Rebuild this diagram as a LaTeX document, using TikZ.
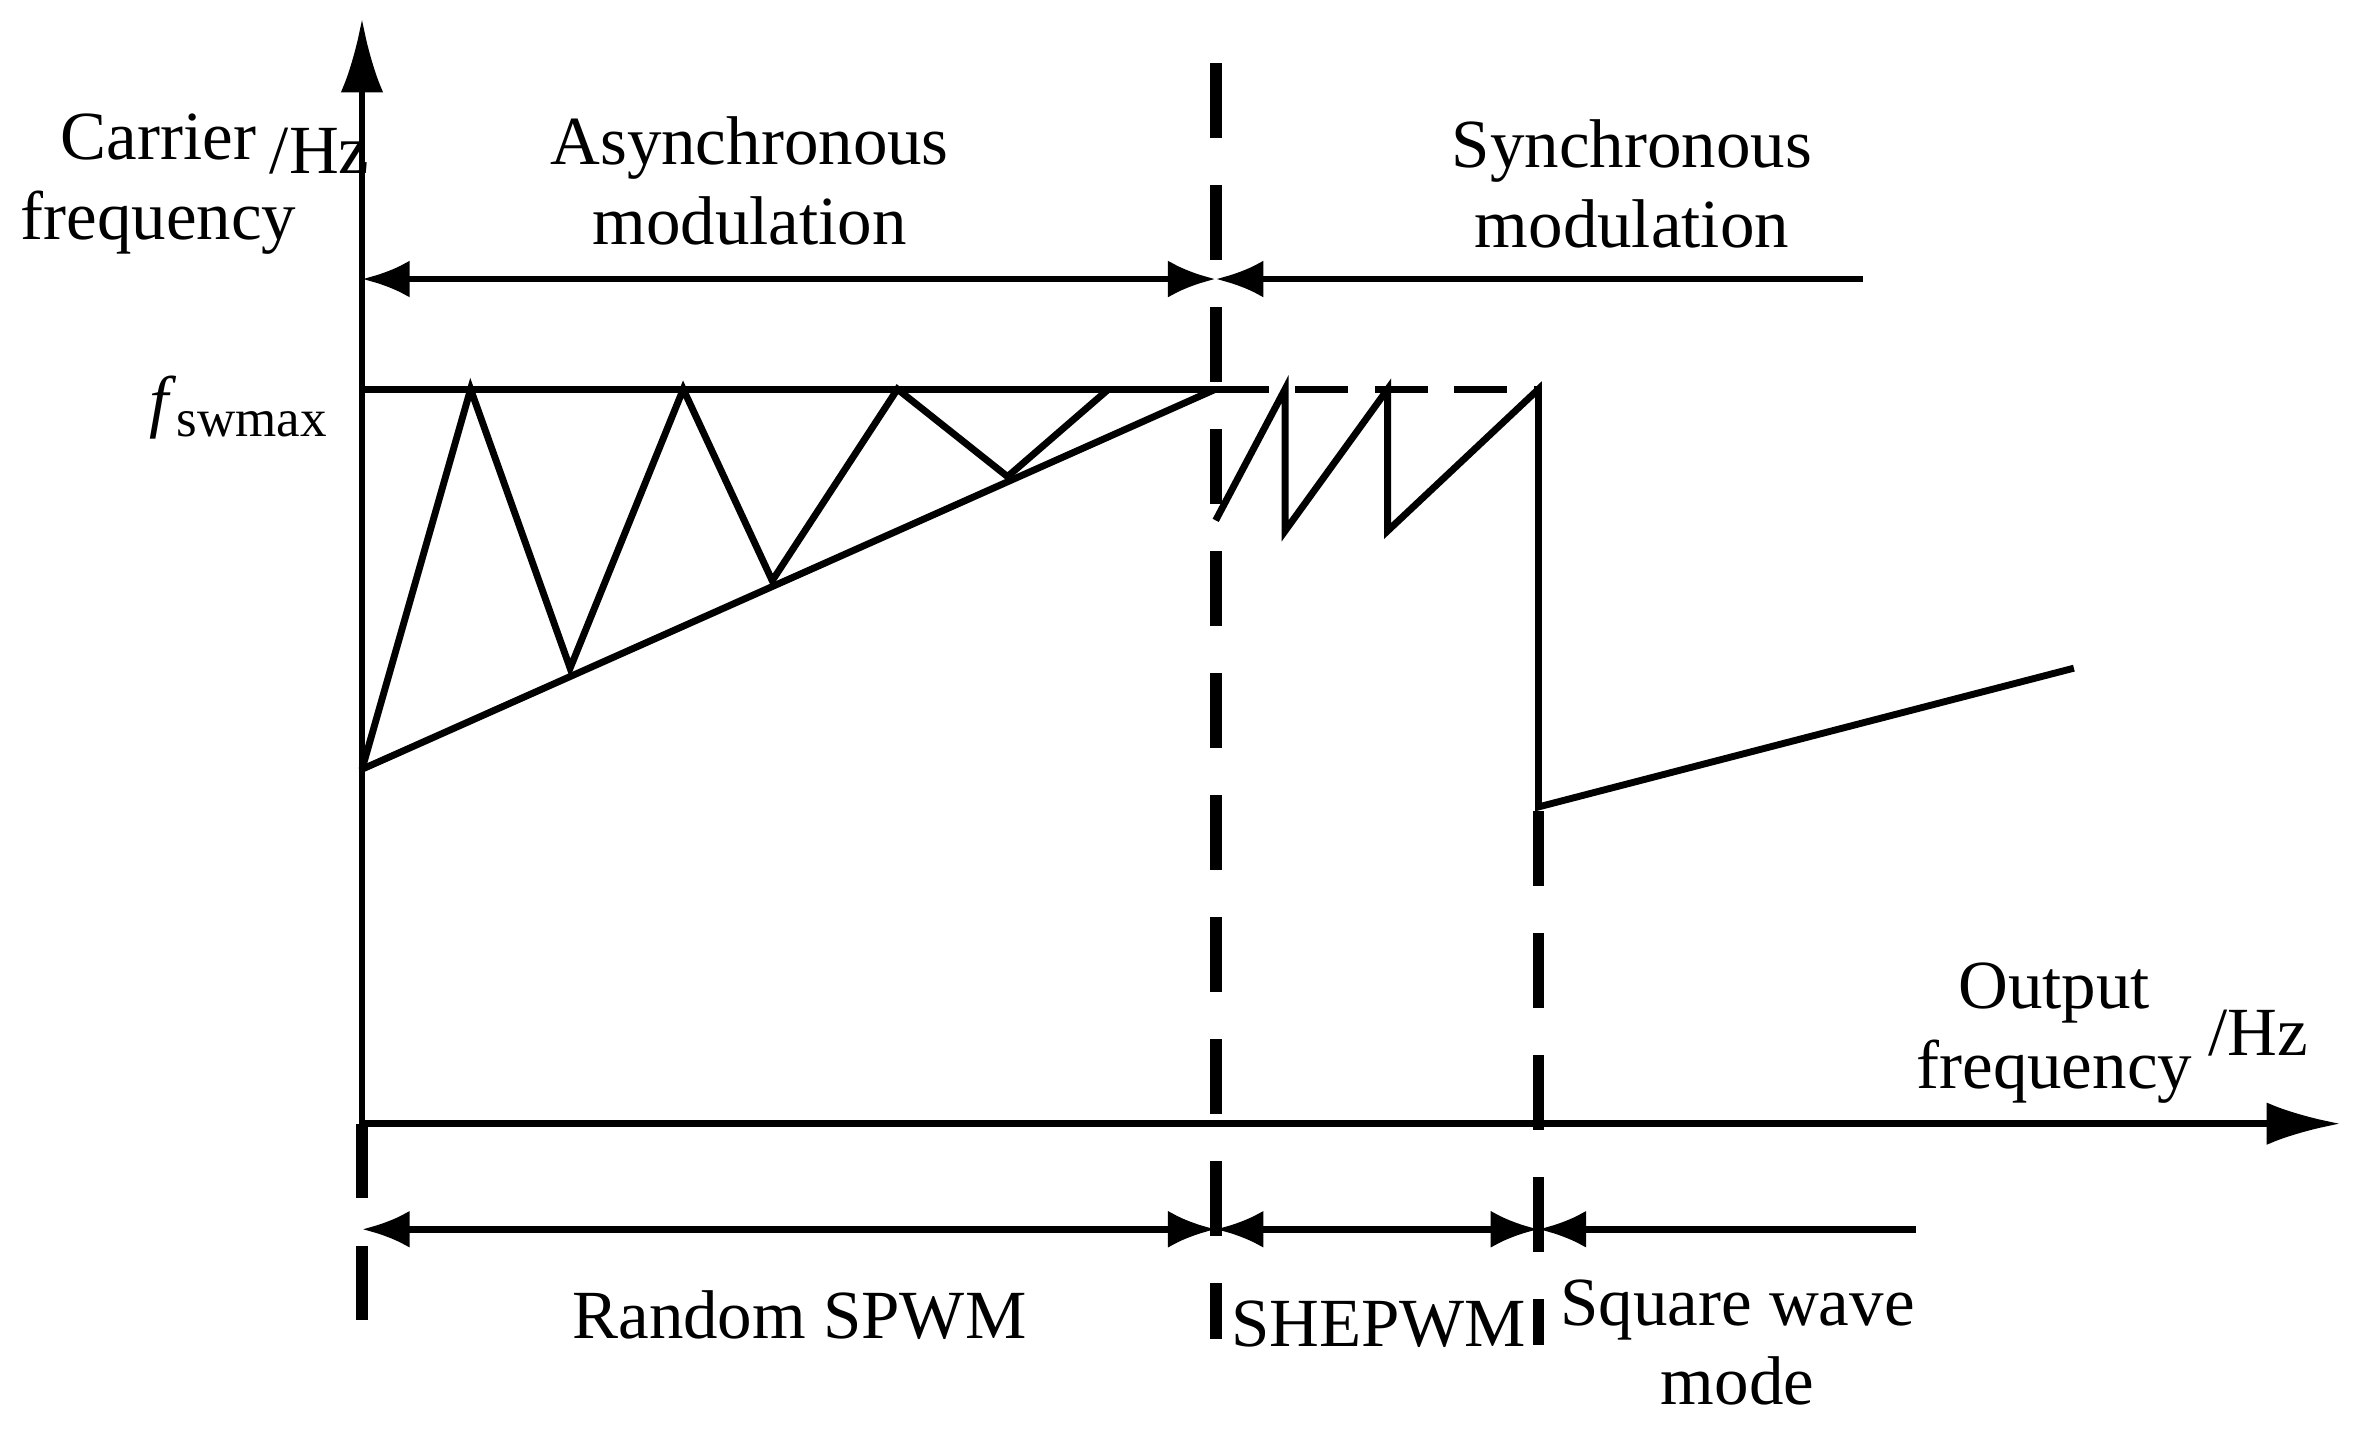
\documentclass[tikz,border=0pt]{standalone}
\usepackage{fontspec}
\setmainfont{Liberation Serif}
\usetikzlibrary{arrows.meta}
\begin{document}
\begin{tikzpicture}[x=0.01cm,y=-0.01cm,line width=1.3pt,font=\fontsize{13}{15}\selectfont]
    \tikzstyle{lbl} = [align=center,inner sep=0pt]
    \tikzstyle{sep} = [line width=2.2pt,dash pattern=on 14pt off 9pt]
    \tikzstyle{span} = [{Latex[length=9pt,width=7pt]}-{Latex[length=9pt,width=7pt]}]
    \tikzstyle{lspan} = [{Latex[length=9pt,width=7pt]}-]
    \useasboundingbox (0,0) rectangle (1568,951);
        % axes
        \coordinate (o) at (240,745);
        \coordinate (ytop) at (240,12);
        \coordinate (xend) at (1552,745);
        \draw[-{Latex[length=14pt,width=8pt]}] (o) -- (ytop);
        \draw[-{Latex[length=14pt,width=8pt]}] (o) -- (xend);
        % separators
        \coordinate (s0a) at (240,745);
        \coordinate (s0b) at (240,892);
        \coordinate (s1a) at (806,42);
        \coordinate (s1b) at (806,888);
        \coordinate (s2a) at (1020,538);
        \coordinate (s2b) at (1020,892);
        \draw[sep] (s0a) -- (s0b);
        \draw[sep] (s1a) -- (s1b);
        \draw[sep] (s2a) -- (s2b);
        % ranges
        \coordinate (t0) at (240,185);
        \coordinate (t1) at (806,185);
        \coordinate (t2) at (1235,185);
        \draw[span] (t0) -- (t1);
        \draw[lspan] (t1) -- (t2);
        \coordinate (b0) at (240,815);
        \coordinate (b1) at (806,815);
        \coordinate (b2) at (1020,815);
        \coordinate (b3) at (1270,815);
        \draw[span] (b0) -- (b1);
        \draw[span] (b1) -- (b2);
        \draw[lspan] (b2) -- (b3);
        % carrier frequency curves
        \coordinate (fmax0) at (240,258);
        \coordinate (fmax1) at (806,258);
        \coordinate (fmax2) at (1020,258);
        \coordinate (low0) at (240,510);
        \draw (fmax0) -- (fmax1);
        \draw[dashed,dash pattern=on 10pt off 5pt] (fmax1) -- (fmax2);
        \draw (low0) -- (fmax1);
        \draw (low0) -- (312,258) -- (378,443) -- (453,258) -- (512,385)
              -- (595,258) -- (668,316) -- (735,258);
        \coordinate (sq0) at (1020,535);
        \coordinate (sq1) at (1375,443);
        \draw (806,345) -- (852,258) -- (852,352) -- (920,258) -- (920,352)
              -- (fmax2) -- (sq0) -- (sq1);
        %%% labels
        \node[lbl] (ylab) at (105,122) {Carrier\\frequency};
        \node[lbl] (yunit) at (212,100) {/Hz};
        \node[lbl] (fsw) at (158,270) {\textit{f}\raisebox{-0.4ex}{\fontsize{10}{12}\selectfont swmax}};
        \node[lbl] (async) at (497,120) {Asynchronous\\modulation};
        \node[lbl] (sync) at (1082,122) {Synchronous\\modulation};
        \node[lbl] (xlab) at (1362,685) {Output\\frequency};
        \node[lbl] (xunit) at (1497,685) {/Hz};
        \node[lbl] (rspwm) at (530,872) {Random SPWM};
        \node[lbl] (she) at (914,878) {SHEPWM};
        \node[lbl] (sqw) at (1152,890) {Square wave\\mode};
\end{tikzpicture}
\end{document}
